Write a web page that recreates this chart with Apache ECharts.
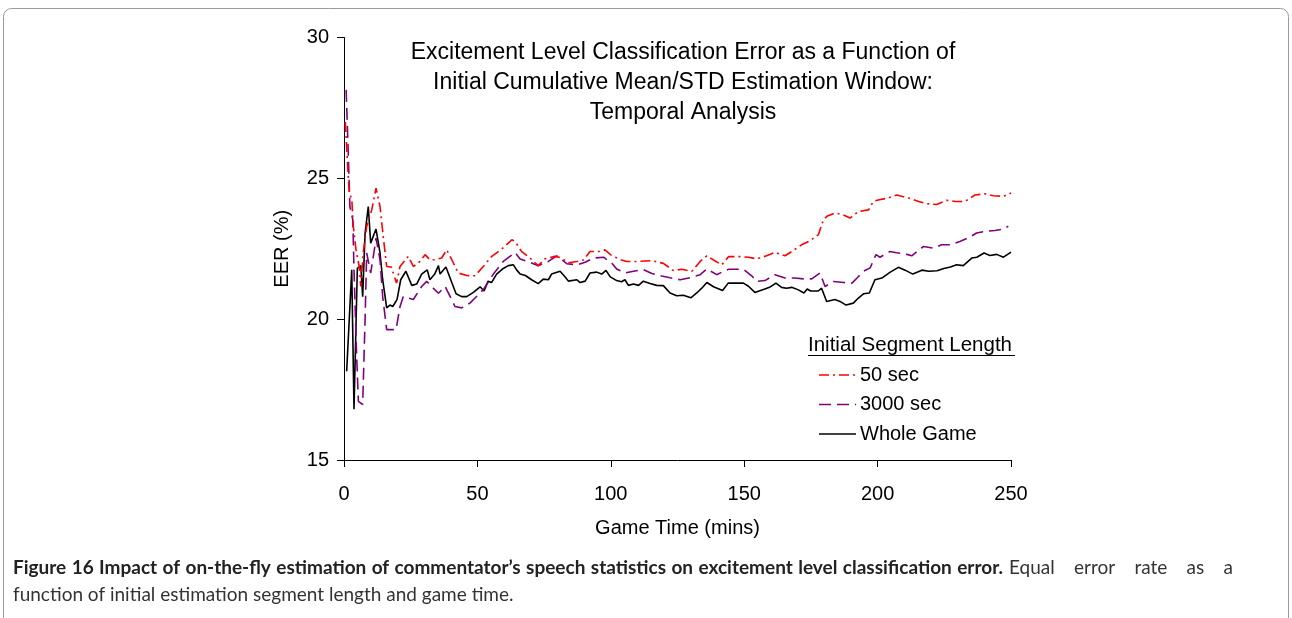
<!DOCTYPE html>
<html>
<head>
<meta charset="utf-8">
<script src="https://cdn.jsdelivr.net/npm/echarts@6/dist/echarts.min.js"></script>
<style>
    html, body { margin: 0; padding: 0; background: #fff; }
    #chart { width: 1292px; height: 618px; }
</style>
</head>
<body>
<div id="chart"></div>
<script>
// axis ticks
const xTicks = [0, 50, 100, 150, 200, 250];
const yTicks = [15, 20, 25, 30];

// [game time (mins), EER (%)]
const sec50 = [
    [0.5, 27.0], [1.5, 25.2], [2, 24.47], [2.9, 24.27], [3.5, 23.3], [4.5, 22.46], [5.7, 21.87], [6.3, 21.16],
    [7.2, 22.35], [8.5, 23.29], [10.4, 23.88], [12, 24.65], [13.5, 24.0], [14.7, 22.94], [16, 21.87], [17.7, 21.85],
    [19.7, 21.28], [21, 21.87], [24.1, 22.23], [26, 21.87], [28.5, 22.05], [30.4, 22.29], [32.2, 22.11], [34.1, 22.11],
    [36.6, 22.17], [38.5, 22.46], [40.4, 22.11], [42.8, 21.64], [46, 21.55], [49.1, 21.54], [52.2, 21.87], [55.4, 22.23],
    [59.1, 22.49], [61.6, 22.7], [62.9, 22.82], [64.1, 22.76], [66.6, 22.4], [69.7, 22.17], [72.8, 21.9], [75.3, 22.14],
    [79.1, 22.23], [81.6, 22.17], [84.1, 22.0], [87.3, 22.05], [89.8, 22.1], [92.2, 22.4], [95.4, 22.4], [97.8, 22.46],
    [100.3, 22.26], [104, 22.1], [106, 22.05], [110.4, 22.05], [115.4, 22.08], [119.7, 21.98], [123.4, 21.73], [126.6, 21.77],
    [130.4, 21.7], [133.5, 22.05], [136, 22.25], [138.5, 22.1], [141.6, 21.93], [144.1, 22.22], [148.4, 22.22], [151.6, 22.2],
    [154.7, 22.14], [158.4, 22.25], [161.5, 22.37], [165.3, 22.25], [167.8, 22.4], [171.5, 22.64], [174.6, 22.78], [177.8, 23.0],
    [179.7, 23.53], [181, 23.65], [184, 23.77], [187.2, 23.7], [189.7, 23.59], [192.8, 23.82], [196.6, 23.88], [198.4, 24.18],
    [200.6, 24.24], [204, 24.3], [207.2, 24.41], [211.6, 24.3], [215.4, 24.18], [218.4, 24.1], [222.1, 24.07], [225.9, 24.22],
    [229.1, 24.18], [232.8, 24.18], [236.5, 24.41], [240.3, 24.45], [243.4, 24.38], [247.2, 24.36], [250, 24.48]
];
const sec3000 = [
    [0.8, 28.14], [1.6, 25.9], [2.2, 24.0], [3.3, 23.53], [3.75, 21.75], [4.7, 18.8], [5.4, 17.08], [7, 16.97],
    [7.9, 19.98], [8.5, 22.35], [9.1, 22.35], [10, 21.64], [11.2, 22.35], [12, 22.88], [13.5, 22.11], [14.5, 20.8],
    [16, 19.63], [17.2, 19.63], [19.5, 19.63], [21, 20.45], [22.2, 20.8], [26, 20.7], [29.1, 21.16], [31, 21.34],
    [32.8, 21.16], [35.4, 20.92], [37.9, 21.16], [39.8, 20.8], [41.6, 20.45], [44.1, 20.4], [47.2, 20.57], [49.1, 20.75],
    [52.2, 21.05], [56, 21.6], [59.7, 22.05], [62.2, 22.23], [64.1, 22.37], [66, 22.14], [69.7, 22.02], [72.8, 21.9],
    [76.6, 22.05], [79.7, 22.25], [83.5, 21.97], [87.3, 21.93], [90.4, 22.02], [93.5, 22.17], [97.3, 22.2], [100.5, 21.98],
    [102.2, 21.78], [105.3, 21.64], [108.5, 21.7], [112.2, 21.76], [115.4, 21.62], [119.1, 21.53], [122.2, 21.47], [126, 21.4],
    [129.7, 21.47], [133.5, 21.58], [136, 21.78], [139.7, 21.58], [142.9, 21.73], [144.2, 21.77], [149.7, 21.77], [152.9, 21.53],
    [154.7, 21.34], [157.8, 21.37], [161.5, 21.58], [165.3, 21.46], [169, 21.46], [172.2, 21.43], [175.3, 21.43], [178.4, 21.64],
    [180.3, 21.16], [183.5, 21.34], [187.3, 21.3], [190.4, 21.28], [192.3, 21.46], [194.7, 21.7], [197.2, 21.82], [199.4, 22.29],
    [200.9, 22.2], [204.6, 22.4], [207.1, 22.36], [210.3, 22.32], [212.8, 22.25], [217.2, 22.58], [220.9, 22.52], [224, 22.64],
    [227.2, 22.64], [230.8, 22.76], [233.9, 22.88], [237.1, 23.06], [240.3, 23.12], [244, 23.15], [247.2, 23.2], [249, 23.3]
];
const wholeGame = [
    [1, 18.15], [2.9, 21.75], [3.75, 16.8], [5, 21.8], [6.3, 21.9], [7, 20.8], [7.9, 23.05], [9.1, 24.0],
    [10, 22.7], [12, 23.2], [13.5, 22.35], [14.5, 21.4], [16, 20.4], [17.2, 20.5], [18.3, 20.45], [19.9, 20.7],
    [21.25, 21.4], [23.2, 21.7], [25.4, 21.2], [27.3, 21.25], [29.1, 21.6], [31.2, 21.75], [32.2, 21.4], [34, 21.6],
    [35.4, 21.9], [36, 21.6], [38.2, 21.85], [40.4, 21.3], [42, 20.9], [44.1, 20.8], [46, 20.8], [48.5, 20.95],
    [51, 21.15], [52.5, 21.0], [54, 21.35], [55.3, 21.3], [57.2, 21.6], [59.7, 21.8], [61.6, 21.9], [63.5, 21.93],
    [64.7, 21.75], [66, 21.6], [68, 21.55], [70.3, 21.4], [72.8, 21.26], [74.7, 21.42], [76.6, 21.4], [77.8, 21.6],
    [81, 21.7], [82.9, 21.5], [84.1, 21.35], [87.3, 21.4], [88.5, 21.3], [90.4, 21.35], [92.2, 21.64], [94.7, 21.67],
    [96.6, 21.6], [98.2, 21.73], [99.8, 21.5], [102.2, 21.37], [104, 21.33], [105.3, 21.4], [106.6, 21.2], [108.5, 21.25],
    [110.4, 21.2], [112.2, 21.35], [114.7, 21.27], [117.2, 21.2], [119.7, 21.19], [122.2, 20.93], [124.7, 20.83], [127.2, 20.85],
    [130, 20.76], [132.2, 20.93], [134.1, 21.1], [136, 21.3], [138.5, 21.15], [141.9, 21.02], [144, 21.28], [149.7, 21.28],
    [151.6, 21.17], [154, 20.95], [157.2, 21.05], [159.5, 21.13], [161.9, 21.28], [164, 21.13], [165.9, 21.1], [167.8, 21.13],
    [170.3, 21.04], [172.4, 20.93], [173.6, 21.07], [174.9, 21.0], [177.8, 21.0], [179, 21.1], [180.9, 20.63], [184, 20.7],
    [185.9, 20.63], [188.2, 20.5], [190.9, 20.57], [192.8, 20.75], [194.7, 20.9], [196.9, 20.93], [199, 21.4], [201.6, 21.46],
    [204.6, 21.66], [207.8, 21.84], [210.3, 21.74], [213.2, 21.6], [216.6, 21.74], [219.2, 21.7], [222.3, 21.72], [224.8, 21.8],
    [227.3, 21.85], [229.6, 21.93], [232.1, 21.9], [235.3, 22.17], [237.2, 22.2], [239.9, 22.35], [242.1, 22.26], [244.6, 22.3],
    [247.2, 22.2], [250, 22.38]
];

const seriesNames = ["50 sec", "3000 sec", "Whole Game"];
const seriesColors = ["#ff0000", "#800080", "#000000"];
const seriesDash = [[10, 4, 2, 4], [12, 6], "solid"];

const captionBold = "Figure 16 Impact of on-the-fly estimation of commentator\u2019s speech statistics on excitement level classification error.";
const captionLine1 = "Equal error rate as a";
const captionLine2 = "function of initial estimation segment length and game time.";

const font = "'Liberation Sans', Arial, sans-serif";
const chart = echarts.init(document.getElementById("chart"));

// legend drawn by hand (underlined heading, line samples)
const legendItems = [];
seriesNames.forEach((name, i) => {
    const y = 375 + i * 29.5;
    legendItems.push({
        type: "line",
        shape: { x1: 819, y1: y, x2: 856, y2: y },
        style: { stroke: seriesColors[i], lineWidth: 1.6, lineDash: seriesDash[i] === "solid" ? null : seriesDash[i] }
    });
    legendItems.push({
        type: "text",
        x: 860, y: y,
        style: { text: name, font: "20px " + font, fill: "#000", textVerticalAlign: "middle" }
    });
});

// caption: first line is justified (bold part ends ~1003, line ends ~1233)
const boldFont = "bold 19px Lato";
const regFont = "19px Lato";
const ctx = document.createElement("canvas").getContext("2d");
const captionItems = [];
function spreadWords(text, f, color, x0, x1, y) {
    const ws = text.split(" ").map(w => { ctx.font = f; return { w, width: ctx.measureText(w).width }; });
    const sum = ws.reduce((a, o) => a + o.width, 0);
    const gap = (x1 - x0 - sum) / (ws.length - 1);
    let cx = x0;
    ws.forEach(o => {
        captionItems.push({ type: "text", x: cx, y: y, style: { text: o.w, font: f, fill: color, textVerticalAlign: "middle" } });
        cx += o.width + gap;
    });
}
spreadWords(captionBold, boldFont, "#222", 13, 1003, 568);
spreadWords(captionLine1, regFont, "#333", 1009, 1233, 568);
captionItems.push({ type: "text", x: 13, y: 595, style: { text: captionLine2, font: regFont, fill: "#333", textVerticalAlign: "middle" } });

chart.setOption({
    animation: false,
    title: {
        text: "Excitement Level Classification Error as a Function of\nInitial Cumulative Mean/STD Estimation Window:\nTemporal Analysis",
        left: 678,
        top: 33,
        textAlign: "center",
        textStyle: { fontFamily: font, fontSize: 23, fontWeight: "normal", lineHeight: 30, color: "#000" }
    },
    grid: { left: 344, right: 281, top: 37.5, bottom: 158 },
    xAxis: {
        type: "value",
        min: xTicks[0],
        max: xTicks[xTicks.length - 1],
        interval: 50,
        name: "Game Time (mins)",
        nameLocation: "middle",
        nameGap: 58,
        nameTextStyle: { fontFamily: font, fontSize: 20, color: "#000" },
        axisLine: { lineStyle: { color: "#000", width: 1 } },
        axisTick: { length: 7, lineStyle: { color: "#000" } },
        axisLabel: { fontFamily: font, fontSize: 20, color: "#000", margin: 24 },
        splitLine: { show: false }
    },
    yAxis: {
        type: "value",
        min: yTicks[0],
        max: yTicks[yTicks.length - 1],
        interval: 5,
        name: "EER (%)",
        nameLocation: "middle",
        nameGap: 52,
        nameTextStyle: { fontFamily: font, fontSize: 20, color: "#000" },
        axisLine: { show: true, lineStyle: { color: "#000", width: 1 } },
        axisTick: { show: true, length: 7, lineStyle: { color: "#000" } },
        axisLabel: { fontFamily: font, fontSize: 20, color: "#000", margin: 15 },
        splitLine: { show: false }
    },
    series: [sec50, sec3000, wholeGame].map((data, i) => ({
        name: seriesNames[i],
        type: "line",
        data: data,
        showSymbol: false,
        symbol: "none",
        lineStyle: { color: seriesColors[i], width: 1.6, type: seriesDash[i] },
        z: 3 - i
    })),
    graphic: [
        // figure frame
        {
            type: "rect",
            shape: { x: 3.5, y: 8.5, width: 1285, height: 700, r: 8 },
            style: { fill: "none", stroke: "#9a9a9a", lineWidth: 1 },
            silent: true
        },
        {
            type: "text",
            x: 808, y: 345,
            style: { text: "Initial Segment Length", font: "20.5px " + font, fill: "#000", textVerticalAlign: "middle" }
        },
        {
            type: "line",
            shape: { x1: 808, y1: 355.5, x2: 1015, y2: 355.5 },
            style: { stroke: "#000", lineWidth: 1 }
        },
        ...legendItems,
        ...captionItems
    ]
});
</script>
</body>
</html>
